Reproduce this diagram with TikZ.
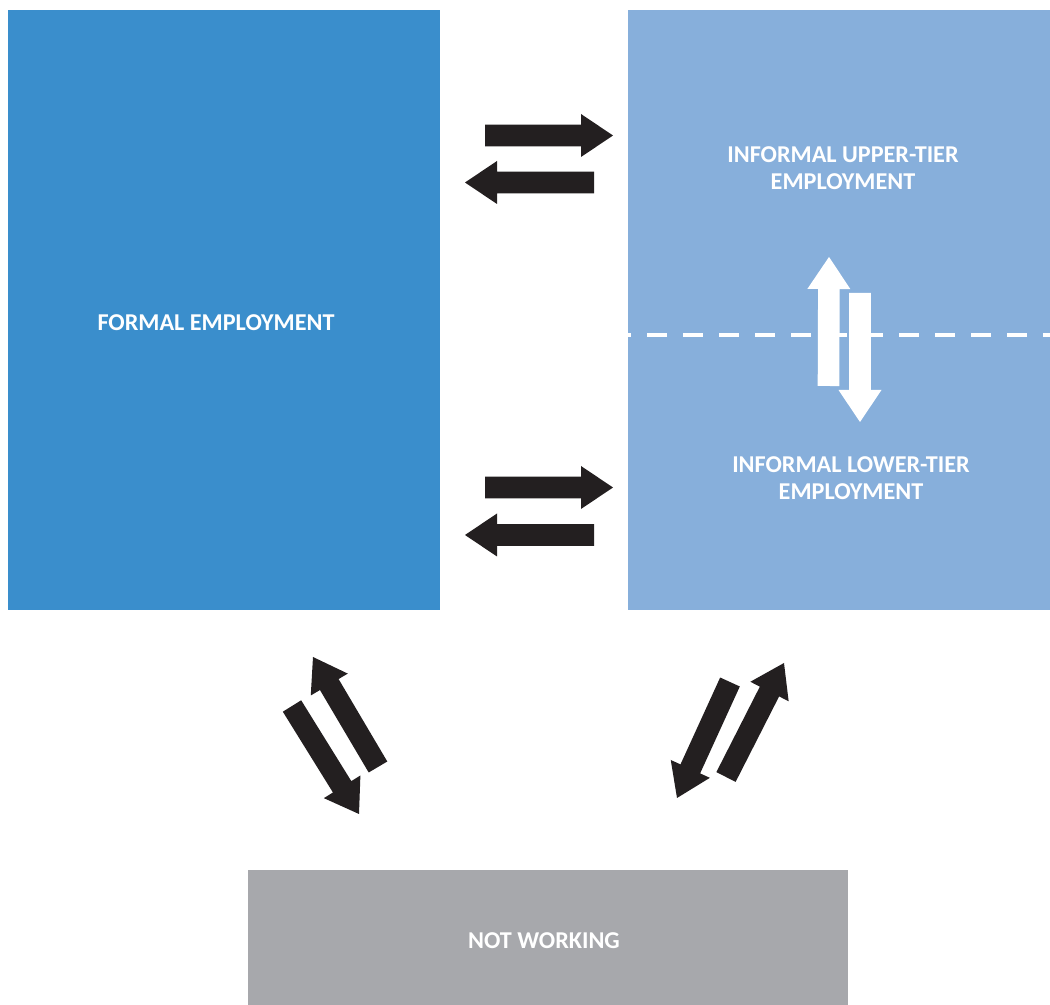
\documentclass[tikz,border=0pt]{standalone}
\usepackage{fontspec}
\setmainfont{Carlito}
\usetikzlibrary{calc, positioning}

\definecolor{formalblue}{RGB}{58,142,204}
\definecolor{informalblue}{RGB}{135,175,219}
\definecolor{idlegray}{RGB}{167,168,172}
\definecolor{flowblack}{RGB}{35,31,32}

% block arrow from tail (#2) to tip (#3)
\newcommand{\flowarrow}[3][flowblack]{%
  \coordinate (hb) at ($(#3)!0.32cm!(#2)$);
  \fill[#1] ($(#2)!0.108cm!90:(#3)$) -- ($(hb)!0.108cm!90:(#3)$)
    -- ($(hb)!0.215cm!90:(#3)$) -- (#3) -- ($(hb)!0.215cm!-90:(#3)$)
    -- ($(hb)!0.108cm!-90:(#3)$) -- ($(#2)!0.108cm!-90:(#3)$) -- cycle;
}

\begin{document}
\begin{tikzpicture}[
        x=1cm, y=-1cm,
        sector/.style={rectangle, inner sep=0pt, outer sep=0pt},
        boxlabel/.style={text=white, align=center, inner sep=0pt,
            font=\bfseries\fontsize{6.88}{7.7}\selectfont}
    ]
        \useasboundingbox (0,0) rectangle (10.5,10.05);

        % Sectors
        \node[sector, fill=formalblue, minimum width=4.32cm, minimum height=6cm] (formal) at (2.24,3.10) {};
        \node[sector, fill=informalblue, minimum width=4.22cm, minimum height=6cm] (informal) at (8.39,3.10) {};
        \node[sector, fill=idlegray, minimum width=6cm, minimum height=1.35cm] (idle) at (5.48,9.375) {};

        % Labels
        \node[boxlabel] (formaltxt) at (2.16,3.23) {FORMAL EMPLOYMENT};
        \node[boxlabel] (uppertxt) at (8.43,1.68) {INFORMAL UPPER-TIER\\EMPLOYMENT};
        \node[boxlabel] (lowertxt) at (8.51,4.785) {INFORMAL LOWER-TIER\\EMPLOYMENT};
        \node[boxlabel] (idletxt) at (5.44,9.41) {NOT WORKING};

        % Tier border
        \draw[white, line width=0.04cm, dash pattern=on 0.2cm off 0.16cm, dash phase=0.17cm]
            (informal.west |- 0,3.35) -- (informal.east |- 0,3.35);

        % Arrow ends
        \coordinate (fu1) at (4.85,1.355);  \coordinate (fu2) at (6.13,1.355);
        \coordinate (uf1) at (5.94,1.825);  \coordinate (uf2) at (4.65,1.825);
        \coordinate (fl1) at (4.85,4.875);  \coordinate (fl2) at (6.13,4.875);
        \coordinate (lf1) at (5.94,5.35);   \coordinate (lf2) at (4.65,5.35);
        \coordinate (lu1) at (8.285,3.86);  \coordinate (lu2) at (8.29,2.57);
        \coordinate (ul1) at (8.60,2.93);   \coordinate (ul2) at (8.60,4.22);
        \coordinate (fn1) at (2.92,7.06);   \coordinate (fn2) at (3.59,8.14);
        \coordinate (nf1) at (3.78,7.67);   \coordinate (nf2) at (3.13,6.57);
        \coordinate (in1) at (7.30,6.82);   \coordinate (in2) at (6.77,7.98);
        \coordinate (ni1) at (7.26,7.77);   \coordinate (ni2) at (7.84,6.63);

        % Flows
        \flowarrow{fu1}{fu2}
        \flowarrow{uf1}{uf2}
        \flowarrow{fl1}{fl2}
        \flowarrow{lf1}{lf2}
        \flowarrow[white]{lu1}{lu2}
        \flowarrow[white]{ul1}{ul2}
        \flowarrow{fn1}{fn2}
        \flowarrow{nf1}{nf2}
        \flowarrow{in1}{in2}
        \flowarrow{ni1}{ni2}

    \end{tikzpicture}
\end{document}
